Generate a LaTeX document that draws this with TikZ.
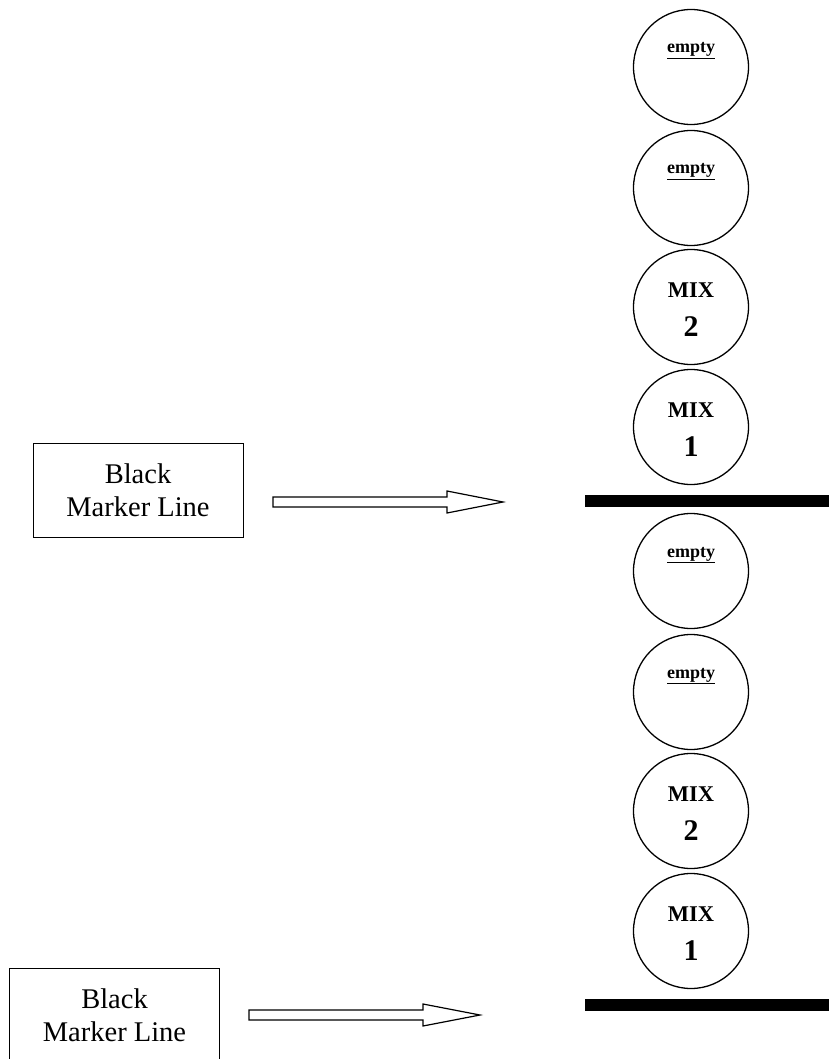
\documentclass[tikz,border=0pt]{standalone}
\usepackage{fontspec}
\setmainfont{Liberation Serif}
\begin{document}
\begin{tikzpicture}[x=1pt,y=-1pt,
  well/.style={draw,circle,minimum size=115pt,inner sep=0pt,line width=1.3pt},
  emptylbl/.style={anchor=base,inner sep=0pt,font=\fontsize{18}{21}\selectfont\bfseries},
  mixlbl/.style={anchor=base,inner sep=0pt,font=\fontsize{22.5}{26}\selectfont\bfseries},
  numlbl/.style={anchor=base,inner sep=0pt,font=\fontsize{30}{34}\selectfont\bfseries},
  markerbox/.style={draw,line width=1pt,minimum width=210pt,minimum height=94pt,inner sep=0pt,align=center,font=\fontsize{28.5}{33}\selectfont},
  bar/.style={line width=12pt},
  hollowarrow/.style={draw,line width=1.2pt,fill=white}
]
\useasboundingbox (0,0) rectangle (829,1059);

\foreach \n/\y in {a/67,b/188,c/307,d/427,e/571,f/692,g/811,h/931}{
  \node[well] (w\n) at (691,\y) {};
}
\node[emptylbl] (la) at ([yshift=14pt]wa.center) {\underline{empty}};
\node[emptylbl] (lb) at ([yshift=14pt]wb.center) {\underline{empty}};
\node[mixlbl] (mc) at ([yshift=10pt]wc.center) {MIX};
\node[numlbl] (nc) at ([yshift=-29pt]wc.center) {2};
\node[mixlbl] (md) at ([yshift=10pt]wd.center) {MIX};
\node[numlbl] (nd) at ([yshift=-29pt]wd.center) {1};
\node[emptylbl] (le) at ([yshift=14pt]we.center) {\underline{empty}};
\node[emptylbl] (lf) at ([yshift=14pt]wf.center) {\underline{empty}};
\node[mixlbl] (mg) at ([yshift=10pt]wg.center) {MIX};
\node[numlbl] (ng) at ([yshift=-29pt]wg.center) {2};
\node[mixlbl] (mh) at ([yshift=10pt]wh.center) {MIX};
\node[numlbl] (nh) at ([yshift=-29pt]wh.center) {1};

\coordinate (b1l) at (585,501);
\coordinate (b1r) at (829,501);
\coordinate (b2l) at (585,1005);
\coordinate (b2r) at (829,1005);
\draw[bar] (b1l) -- (b1r);
\draw[bar] (b2l) -- (b2r);

\node[markerbox] (box1) at (138,490) {Black\\Marker Line};
\node[markerbox] (box2) at (114.5,1015) {Black\\Marker Line};

\draw[hollowarrow] (273,497) -- (447,497) -- (447,491) -- (503,502) -- (447,513) -- (447,507) -- (273,507) -- cycle;
\draw[hollowarrow] (249,1010) -- (423,1010) -- (423,1004) -- (480,1015) -- (423,1026) -- (423,1020) -- (249,1020) -- cycle;
\end{tikzpicture}
\end{document}
